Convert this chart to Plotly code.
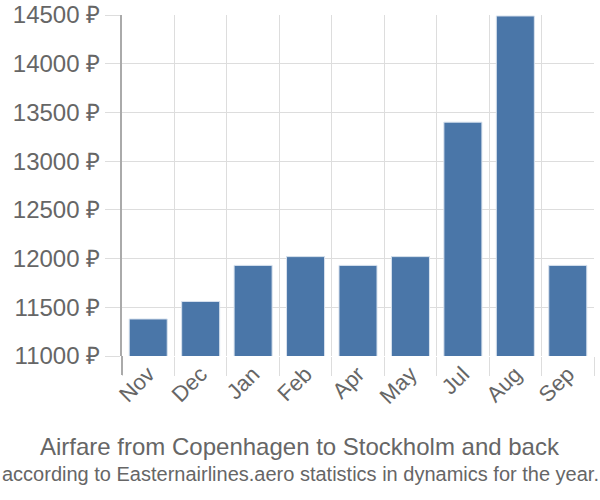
import plotly.graph_objs as go

months = ['Nov', 'Dec', 'Jan', 'Feb', 'Apr', 'May', 'Jul', 'Aug', 'Sep']
prices = [11380, 11560, 11930, 12020, 11930, 12020, 13400, 14490, 11930]
y_ticks = [11000, 11500, 12000, 12500, 13000, 13500, 14000, 14500]

title_text = 'Airfare from Copenhagen to Stockholm and back'
subtitle_text = 'according to Easternairlines.aero statistics in dynamics for the year.'

grey = '#666666'
W, H = 600, 500
L, R, T, B = 122, 6, 15, 144
plot_w = W - L - R
plot_h = H - T - B

def px_x(x):
    return (x - L) / plot_w

def px_y(y):
    return (H - B - y) / plot_h

trace = go.Bar(x=months, y=prices,
               marker=dict(color='#4a76a8', line=dict(color='#d8e2ee', width=1)),
               showlegend=False, hoverinfo='skip')

layout = go.Layout(
    width=W, height=H,
    margin=dict(l=L, r=R, t=T, b=B),
    plot_bgcolor='white', paper_bgcolor='white',
    bargap=0.275,
    font=dict(family='Liberation Sans, Arial, sans-serif', color=grey),
    xaxis=dict(type='category', tickson='boundaries', showgrid=True, gridcolor='#dddddd',
               ticks='outside', ticklen=19, tickcolor='#dddddd', tickangle=-45,
               tickfont=dict(size=22, color=grey), showline=False, automargin=False),
    yaxis=dict(range=[11000, 14500], tickvals=y_ticks, ticktext=[f'{v} ₽' for v in y_ticks],
               showgrid=True, gridcolor='#dddddd', ticks='outside', ticklen=15,
               tickcolor='#dddddd', tickfont=dict(size=24, color=grey),
               showline=True, linecolor='#aaaaaa', linewidth=2, zeroline=False,
               automargin=False),
    annotations=[
        dict(text=title_text, x=px_x(300), y=px_y(446), xref='paper', yref='paper',
             showarrow=False, xanchor='center', yanchor='middle',
             font=dict(size=24, color=grey)),
        dict(text=subtitle_text, x=px_x(300), y=px_y(474), xref='paper', yref='paper',
             showarrow=False, xanchor='center', yanchor='middle',
             font=dict(size=20, color=grey, family='Liberation Sans Narrow, Arial Narrow, sans-serif')),
    ],
    shapes=[
        # y axis line continues down through the tick area
        dict(type='line', xref='paper', yref='paper', x0=0, x1=0, y0=0, y1=px_y(375),
             line=dict(color='#aaaaaa', width=2)),
    ],
)

fig = go.Figure(data=[trace], layout=layout)
fig.write_html('out.html', config={'displayModeBar': False},
               post_script="document.body.style.margin='0';")
